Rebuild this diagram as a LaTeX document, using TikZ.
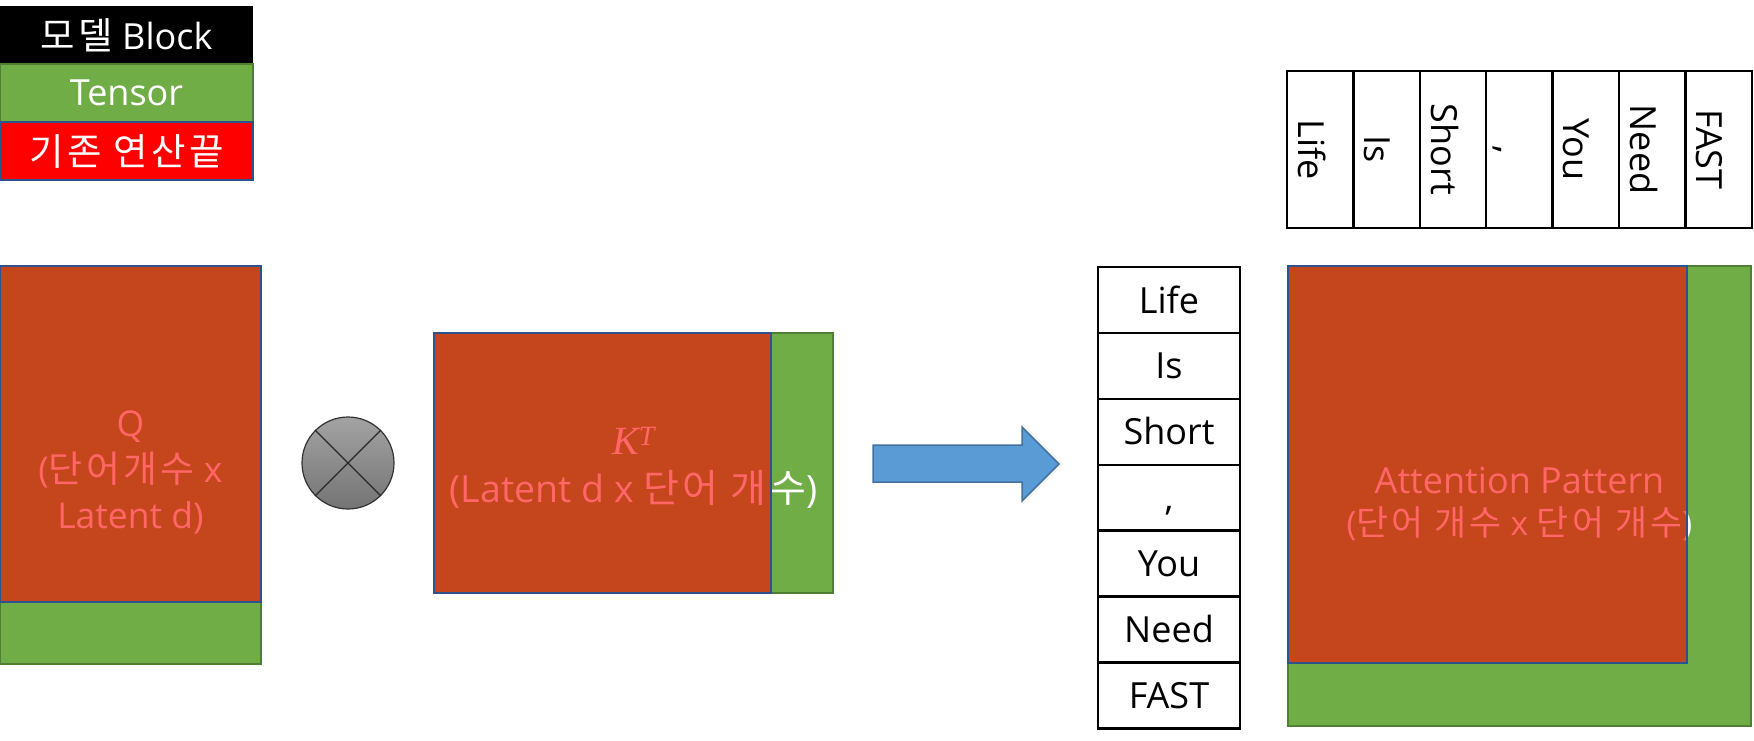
\documentclass[tikz,border=0pt]{standalone}
\usepackage{fontspec}
\setmainfont{Open Sans}
\newfontfamily\kr[Scale=1.04,LetterSpace=9]{Noto Sans CJK KR}
\newfontfamily\lserif{Liberation Serif}
\definecolor{tgreen}{HTML}{70AD47}
\definecolor{tgreenb}{HTML}{507E32}
\definecolor{rblue}{HTML}{2F528F}
\definecolor{abl}{HTML}{5B9BD5}
\definecolor{ablb}{HTML}{41719C}
\definecolor{cgtop}{HTML}{A3A3A3}
\definecolor{cgbot}{HTML}{747474}
\begin{document}
\begin{tikzpicture}[x=1pt,y=-1pt,
  box/.style={rectangle, anchor=north west, inner sep=0pt, outer sep=0pt},
  tensor/.style={box, fill=tgreen, draw=tgreenb, line width=2pt},
  oper/.style={box, fill=red, fill opacity=0.6, draw=rblue, draw opacity=1, line width=1.8pt},
  lbl/.style={text=white, align=center, inner sep=0pt},
  legbox/.style={box, minimum width=253pt, minimum height=58pt},
  legtxt/.style={text=white, font=\fontsize{36}{40}\selectfont},
  cell/.style={rectangle, draw=black, line width=2.4pt, inner sep=0pt, font=\fontsize{36}{40}\selectfont, text=black},
  hcell/.style={cell, minimum width=142pt, minimum height=65.9pt, text height=26pt, text depth=0pt},
  vcell/.style={cell, rotate=-90, minimum width=157pt, minimum height=66.4pt, text height=44pt, text depth=0pt}
]
\useasboundingbox (0,0) rectangle (1754,741);

% legend
\node[legbox, fill=black] (legA) at (0,6) {};
\node[legtxt] (legAt) at (legA.center) {{\kr 모델} Block};
\node[legbox, fill=tgreen, draw=tgreenb, line width=2pt] (legB) at (0,64) {};
\node[legtxt] (legBt) at (legB.center) {Tensor};
\node[legbox, fill=red, draw=rblue, line width=1.8pt] (legC) at (0,122) {};
\node[legtxt] (legCt) at (legC.center) {\kr 기존 연산끝};

% Q
\node[tensor, minimum width=261pt, minimum height=398pt] (Qg) at (0,266) {};
\node[lbl, font=\fontsize{35.5}{46}\selectfont] (Qt) at ([yshift=-7pt]Qg.center) {Q\\({\kr 단어개수} x\\Latent d)};
\node[oper, minimum width=261pt, minimum height=336pt] (Qr) at (0,266) {};

% multiply
\node[circle, minimum size=92pt, inner sep=0pt, draw={rgb,255:red,50;green,50;blue,50}, line width=1.2pt,
      top color=cgtop, bottom color=cgbot] (mul) at (348,463) {};
\draw[line width=1.1pt, draw={rgb,255:red,40;green,40;blue,40}] (mul.north west) -- (mul.south east);
\draw[line width=1.1pt, draw={rgb,255:red,40;green,40;blue,40}] (mul.north east) -- (mul.south west);

% K^T
\node[tensor, minimum width=399pt, minimum height=260pt] (Kg) at (434,333) {};
\node[lbl, font=\fontsize{37.5}{48}\selectfont] (Kt) at ([yshift=-5pt]Kg.center) {{\lserif\fontsize{40}{48}\selectfont\itshape K\textsuperscript{T}}\\(Latent d x {\kr 단어 개수})};
\node[oper, minimum width=337pt, minimum height=260pt] (Kr) at (434,333) {};

% block arrow
\draw[fill=abl, draw=ablb, line width=1.5pt] (873,445) -- (1022,445) -- (1022,427) -- (1059,464) -- (1022,501) -- (1022,482) -- (873,482) -- cycle;

% vertical word column
\foreach \w [count=\i from 0] in {Life,Is,Short,{,},You,Need,FAST}{
  \node[hcell] (r\i) at (1169,{300+\i*65.9}) {\w};
}

% horizontal word row
\foreach \w [count=\i from 0] in {Life,Is,Short,{,},You,Need,FAST}{
  \node[vcell] (c\i) at ({1320.2+\i*66.4},149.5) {\w};
}

% attention pattern
\node[tensor, minimum width=463pt, minimum height=460pt] (Ag) at (1288,266) {};
\node[lbl, font=\fontsize{36}{42}\selectfont] (At) at ([yshift=-8pt]Ag.center) {Attention Pattern\\{\fontsize{33.5}{42}\selectfont ({\kr 단어 개수} x {\kr 단어 개수})}};
\node[oper, minimum width=399pt, minimum height=397pt] (Ar) at (1288,266) {};
\end{tikzpicture}
\end{document}
